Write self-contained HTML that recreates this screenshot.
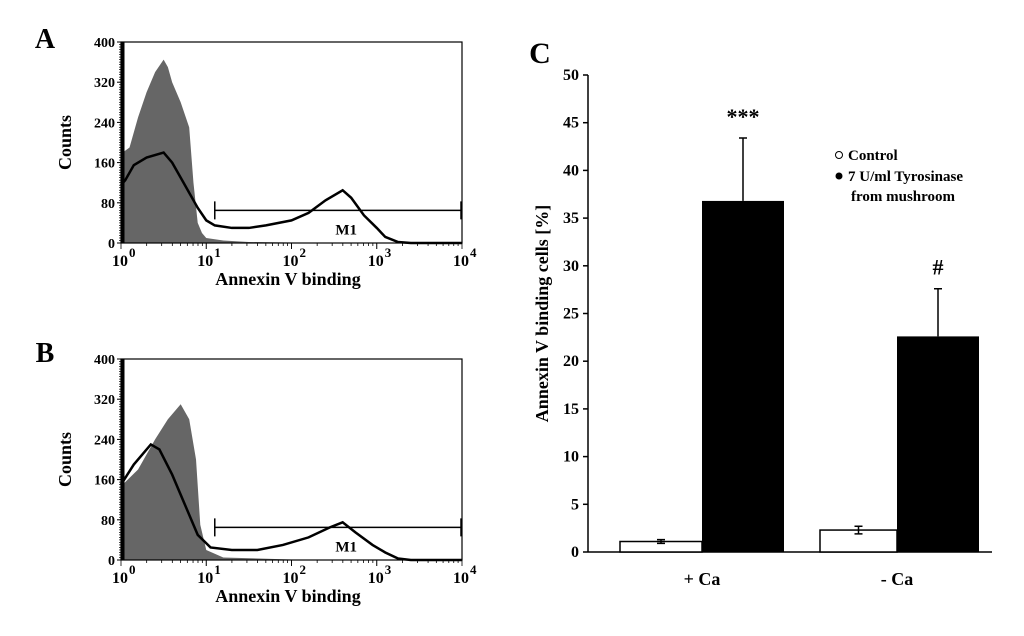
<!DOCTYPE html>
<html><head><meta charset="utf-8"><style>
body{margin:0;background:#fff}
svg{display:block;font-family:"Liberation Serif",serif;font-weight:bold}
</style></head><body>
<svg id="fig" width="1024" height="636" viewBox="0 0 1024 636"></svg>
<script>
// Panel A/B histogram data: [log10 intensity, counts]
const aGray=[[0,0],[0.02,180],[0.1,190],[0.2,250],[0.3,300],[0.4,340],[0.5,365],[0.55,350],[0.6,320],[0.7,280],[0.8,230],[0.85,120],[0.9,40],[0.95,20],[1.0,10],[1.2,5],[1.5,2],[2,1],[4,0]];
const aLine=[[0,115],[0.05,125],[0.15,155],[0.3,170],[0.5,180],[0.6,160],[0.7,130],[0.8,100],[0.9,70],[1.0,45],[1.1,35],[1.3,30],[1.5,30],[1.7,35],[2.0,45],[2.2,60],[2.4,85],[2.6,105],[2.7,90],[2.85,55],[3.0,30],[3.1,12],[3.25,2],[3.4,0],[4,0]];
const bGray=[[0,0],[0.02,150],[0.2,180],[0.4,240],[0.55,280],[0.7,310],[0.8,280],[0.88,200],[0.93,70],[1.0,20],[1.2,5],[2,1],[4,0]];
const bLine=[[0,150],[0.15,190],[0.35,230],[0.45,220],[0.6,170],[0.75,110],[0.9,50],[1.05,25],[1.3,20],[1.6,20],[1.9,30],[2.2,45],[2.45,65],[2.6,75],[2.75,55],[2.95,30],[3.1,15],[3.25,3],[3.4,0],[4,0]];
const histYTicks=[0,80,160,240,320,400];
const m1Start=1.1, m1Level=65;
// Panel C data
const groups=["+ Ca","- Ca"];
const controlVals=[1.1,2.3];
const controlErr=[0.2,0.4];
const tyroVals=[36.8,22.6];
const tyroErr=[6.6,5.0];
const sigLabels=["***","#"];
const cYTicks=[0,5,10,15,20,25,30,35,40,45,50];

const svg=document.getElementById('fig');
const NS='http://www.w3.org/2000/svg';
function mk(tag,attrs,parent){const e=document.createElementNS(NS,tag);for(const k in attrs)e.setAttribute(k,attrs[k]);(parent||svg).appendChild(e);return e;}
function txt(s,x,y,size,anchor,parent){const t=mk('text',{x:x,y:y,'font-size':size,'text-anchor':anchor||'middle'},parent);t.textContent=s;return t;}

function hist(top,bottom,gray,line,label,labY){
  const g=mk('g',{});
  
  
  const x0=121,x1=462;
  const X=v=>x0+(x1-x0)*v/4, Y=c=>bottom-(bottom-top)*c/400;
  let d='M'+X(0)+','+Y(0);gray.forEach(p=>d+=' L'+X(p[0])+','+Y(p[1]));d+=' L'+X(4)+','+Y(0)+'Z';
  const gp=mk('path',{d:d,fill:'#666'},g);
  
  
  const lp=mk('polyline',{points:line.map(p=>X(p[0])+','+Y(p[1])).join(' '),fill:'none',stroke:'#000','stroke-width':2.5},g);
  
  
  mk('line',{x1:x0+2,y1:top,x2:x0+2,y2:bottom,stroke:'#000','stroke-width':3},g);
  mk('rect',{x:x0,y:top,width:x1-x0,height:bottom-top,fill:'none',stroke:'#000','stroke-width':1.2},g);
  histYTicks.forEach(t=>{mk('line',{x1:x0-4,y1:Y(t),x2:x0,y2:Y(t),stroke:'#000'},g);txt(String(t),x0-6,Y(t)+5,14,'end',g);});
  for(let i=0;i<=80;i++){const y=bottom-(bottom-top)*i/80;mk('line',{x1:x0-2,y1:y,x2:x0,y2:y,stroke:'#000','stroke-width':0.7},g);}
  for(let dcd=0;dcd<4;dcd++)for(let k=1;k<=10;k++){const x=X(dcd+Math.log10(k));mk('line',{x1:x,y1:bottom,x2:x,y2:bottom+(k==1||k==10?6:3),stroke:'#000','stroke-width':0.8},g);}
  for(let i=0;i<=4;i++){txt('10',X(i)-1,bottom+23,16,'middle',g);txt(String(i),X(i)+8,bottom+14,13,'start',g);}
  const mx=X(m1Start),my=Y(m1Level);
  const m=mk('path',{d:`M${mx},${my-9} V${my+9} M${mx},${my} H${x1-1} M${x1-1},${my-9} V${my+9}`,stroke:'#000','stroke-width':1.5,fill:'none'},g);
  
  
  txt('M1',X(2.9)-22,my+24,15,'middle',g);
  txt('Annexin V binding',288,bottom+42,18,'middle',g);
  const yl=txt('Counts',0,0,18,'middle',g);yl.setAttribute('transform',`translate(71,${(top+bottom)/2}) rotate(-90)`);
  txt(label,45,labY,28,'middle',g);
}
hist(42,243,aGray,aLine,'A',48);
hist(359,560,bGray,bLine,'B',362);

// Panel C
const cg=mk('g',{});


const ax0=588,ax1=992,yb=552,yt=75;
const CY=v=>yb-(yb-yt)*v/50;
mk('line',{x1:ax0,y1:yt,x2:ax0,y2:yb,stroke:'#000','stroke-width':1.5},cg);
mk('line',{x1:ax0,y1:yb,x2:ax1,y2:yb,stroke:'#000','stroke-width':1.5},cg);
cYTicks.forEach(t=>{mk('line',{x1:ax0-5,y1:CY(t),x2:ax0,y2:CY(t),stroke:'#000','stroke-width':1.5},cg);txt(String(t),ax0-9,CY(t)+5,16,'end',cg);});
const groupLeft=[620,820],bw=[82,77];
groups.forEach((gName,i)=>{
  const l=groupLeft[i],w=bw[i];
  const r1=mk('rect',{x:l,y:CY(controlVals[i]),width:w,height:yb-CY(controlVals[i]),fill:'#fff',stroke:'#000','stroke-width':1.5},cg);
  
  
  const cx=l+w/2;
  mk('path',{d:`M${cx},${CY(controlVals[i]-controlErr[i])} V${CY(controlVals[i]+controlErr[i])} M${cx-4},${CY(controlVals[i]+controlErr[i])} h8 M${cx-4},${CY(controlVals[i]-controlErr[i])} h8`,stroke:'#000','stroke-width':1.5},cg);
  const l2=l+w,w2=82;
  const r2=mk('rect',{x:l2,y:CY(tyroVals[i]),width:w2,height:yb-CY(tyroVals[i]),fill:'#000'},cg);
  
  
  const tx=l2+w2/2;
  mk('path',{d:`M${tx},${CY(tyroVals[i])} V${CY(tyroVals[i]+tyroErr[i])} M${tx-4},${CY(tyroVals[i]+tyroErr[i])} h8`,stroke:'#000','stroke-width':1.5},cg);
  txt(sigLabels[i],tx,CY(tyroVals[i]+tyroErr[i])-14,22,'middle',cg);
  txt(gName,l+w,yb+33,18,'middle',cg);
});
const yl=txt('Annexin V  binding  cells  [%]',0,0,18,'middle',cg);yl.setAttribute('transform',`translate(548,${(yt+yb)/2}) rotate(-90)`);
txt('C',540,63,30,'middle',cg);
const lg=mk('g',{},cg);


mk('circle',{cx:839,cy:155,r:3.5,fill:'#fff',stroke:'#000'},lg);
txt('Control',848,160,15,'start',lg);
mk('circle',{cx:839,cy:176,r:3.5,fill:'#000'},lg);
txt('7 U/ml Tyrosinase',848,181,15,'start',lg);
txt('from mushroom',851,201,15,'start',lg);
</script>
</body></html>
